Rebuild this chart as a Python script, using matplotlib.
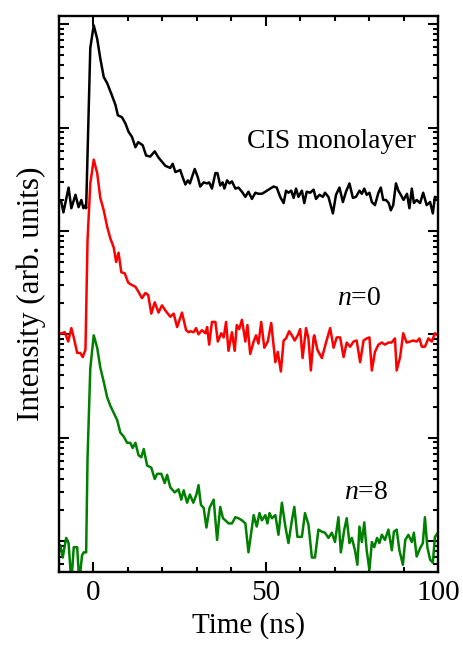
#!/usr/bin/env python3
"""Time-resolved PL decay of CIS monolayer and n=0 / n=8 samples (log scale, offset)."""

import matplotlib

matplotlib.use("Agg")
import matplotlib.pyplot as plt
import numpy as np
from matplotlib.ticker import LogLocator, MultipleLocator, NullFormatter

# time (ns) and log10 intensity, one pair per curve
CIS_TIME = [
    -10, -9.3, -8.7, -7.2, -6.4, -5.2, -4.3, -3.5, -2.9, -2.3, -2.1, -0.9, 0.1, 1.1, 2, 3, 4,
    5.4, 6.4, 7.1, 8.3, 9.3, 10.2, 11.2, 12.2, 13, 14.3, 15.3, 16.5, 17.8, 18.9, 19.9, 20.9,
    22.3, 23, 23.8, 25.2, 25.9, 26.7, 27.4, 28, 29.4, 30.3, 31, 32, 33, 33.6, 34.4, 35.4, 36,
    36.8, 37.5, 38, 38.8, 39.5, 40.2, 41.2, 42.1, 43.1, 44.1, 45, 46, 47, 47.9, 48.9, 49.9,
    51.3, 52.3, 53.2, 54.2, 55.2, 55.9, 56.6, 57.4, 58.1, 58.8, 59.5, 60.5, 61.2, 61.9, 62.9,
    63.9, 64.6, 65.6, 66.6, 67.2, 68.2, 69.5, 70.4, 71.4, 72.4, 73.3, 74.3, 75.3, 76.2, 77.2,
    77.9, 78.6, 79.3, 80.1, 80.8, 81.7, 82.7, 83.4, 84.1, 84.9, 85.7, 86.3, 87, 87.8, 88.5,
    89.2, 90, 91, 91.7, 92.4, 93, 93.8, 94.8, 95.7, 96.7, 97.7, 98.5, 99.1, 100,
]
CIS_LOG = [
    3.30, 3.28, 3.18, 3.42, 3.22, 3.35, 3.23, 3.30, 3.22, 3.25, 3.22, 4.77, 4.99, 4.86, 4.67,
    4.49, 4.43, 4.31, 4.22, 4.12, 4.10, 4.04, 3.96, 3.91, 3.81, 3.86, 3.83, 3.73, 3.72, 3.77,
    3.71, 3.67, 3.63, 3.61, 3.65, 3.57, 3.59, 3.52, 3.45, 3.49, 3.46, 3.60, 3.52, 3.43, 3.47,
    3.46, 3.47, 3.41, 3.56, 3.56, 3.44, 3.47, 3.41, 3.49, 3.46, 3.48, 3.41, 3.42, 3.38, 3.33,
    3.38, 3.31, 3.37, 3.36, 3.36, 3.38, 3.41, 3.43, 3.42, 3.33, 3.27, 3.39, 3.37, 3.39, 3.32,
    3.41, 3.33, 3.39, 3.27, 3.38, 3.37, 3.40, 3.31, 3.35, 3.33, 3.37, 3.33, 3.17, 3.35, 3.42,
    3.28, 3.38, 3.46, 3.32, 3.33, 3.39, 3.36, 3.41, 3.35, 3.37, 3.28, 3.25, 3.37, 3.42, 3.30,
    3.30, 3.27, 3.20, 3.25, 3.46, 3.39, 3.35, 3.30, 3.36, 3.22, 3.41, 3.27, 3.30, 3.27, 3.37,
    3.25, 3.28, 3.17, 3.33, 3.32,
]

N0_TIME = [
    -10, -9.3, -8.3, -7.3, -6.4, -5.7, -4.7, -3.8, -3.1, -2.3, -1.7, -0.9, 0.1, 1.1, 2, 3, 4,
    4.9, 5.9, 6.6, 7.3, 8.1, 9.1, 10.1, 11, 12.2, 13.1, 14.1, 15.1, 15.9, 16.8, 17.8, 18.9,
    19.9, 20.9, 22.3, 23.3, 24.3, 25.7, 26.9, 27.6, 28.1, 29.1, 29.8, 30.5, 31.5, 32.5, 33,
    33.6, 34.4, 35.4, 36.1, 37.1, 37.8, 38.5, 39.2, 40.2, 41, 41.6, 42.3, 43.1, 44.1, 44.7,
    45.5, 46.5, 47.2, 47.9, 48.7, 49.6, 50.6, 51.6, 52.8, 53.5, 54.4, 55.2, 55.9, 56.8, 57.6,
    58.4, 59.3, 60, 60.7, 61.7, 62.4, 63.1, 63.9, 64.1, 65, 66.3, 67.5, 68.7, 69.7, 70.6,
    71.6, 72.6, 73.5, 74.5, 75.5, 76.4, 77.4, 78.4, 79.3, 80.1, 80.8, 81.7, 82.7, 83.7, 84.6,
    85.6, 86.5, 87.5, 88, 89, 89.9, 90.9, 91.9, 92.8, 93.8, 94.6, 95.3, 96.2, 97.2, 98.2,
    99.1, 100,
]
N0_LOG = [
    2.00, 2.01, 2.02, 1.93, 2.06, 1.97, 1.82, 1.82, 1.78, 1.85, 2.91, 3.46, 3.69, 3.56, 3.32,
    3.20, 3.04, 2.93, 2.84, 2.70, 2.79, 2.60, 2.59, 2.50, 2.48, 2.46, 2.41, 2.35, 2.40, 2.38,
    2.20, 2.31, 2.21, 2.28, 2.23, 2.17, 2.20, 2.07, 2.21, 2.04, 2.02, 2.03, 2.02, 2.06, 2.00,
    2.04, 2.01, 2.07, 1.90, 2.12, 2.12, 1.93, 2.01, 1.97, 2.12, 1.84, 2.02, 1.84, 2.09, 2.05,
    2.14, 1.93, 2.09, 1.81, 1.93, 1.99, 1.91, 2.12, 1.87, 1.93, 2.11, 1.73, 1.83, 1.64, 1.94,
    1.96, 2.03, 1.99, 1.94, 1.99, 2.05, 1.77, 2.06, 1.96, 1.65, 1.97, 1.99, 1.85, 1.77, 1.92,
    2.06, 1.87, 1.97, 1.97, 1.78, 1.92, 1.88, 1.93, 1.94, 1.73, 1.94, 1.96, 1.97, 1.65, 1.83,
    1.90, 1.92, 1.90, 1.92, 1.92, 1.96, 1.65, 1.78, 2.01, 1.92, 1.93, 1.94, 1.93, 1.96, 1.88,
    1.88, 1.96, 1.93, 2.01, 1.99,
]

N8_TIME = [
    -10, -9.6, -8.9, -7.9, -7.2, -6.4, -5.7, -4.7, -4.1, -3.3, -2.8, -2.1, -1.7, -0.9, 0.1,
    1.1, 2, 3, 4, 4.9, 5.9, 6.9, 7.8, 8.8, 9.8, 10.7, 11.4, 12.2, 13.1, 13.9, 14.6, 15.6,
    16.8, 17.8, 18.5, 19.7, 20.7, 21.4, 22.3, 23.6, 24.7, 25.5, 26.2, 27.2, 28, 29, 29.9,
    30.5, 31.2, 32, 32.8, 33.7, 34.9, 35.9, 36.8, 37.6, 38.3, 39.2, 40.2, 41.2, 42.1, 43.1,
    44.1, 45, 46.5, 47.4, 48.2, 48.9, 49.9, 50.5, 51.1, 51.8, 52.8, 53.7, 54.7, 55.7, 56.6,
    57.6, 58.3, 59.2, 60.5, 61.4, 62.4, 63.4, 64.3, 65.3, 66.3, 67.2, 68.2, 69.2, 70.1, 71.1,
    71.8, 72.8, 73.5, 74.3, 75, 75.9, 76.6, 77.2, 77.9, 78.6, 79.3, 80.1, 80.8, 81.5, 82.3,
    83, 83.7, 84.6, 85.6, 86.6, 87.2, 88, 88.8, 89.8, 90.5, 91.4, 92.4, 93, 93.8, 94.8, 95.6,
    96.2, 96.9, 97.7, 98.5, 99.1, 100,
]
N8_LOG = [
    -0.10, -0.04, -0.16, 0.03, -0.02, -0.40, -0.06, -0.06, -0.40, -0.14, -0.11, -0.11, 0.80,
    1.67, 1.99, 1.87, 1.68, 1.54, 1.39, 1.31, 1.24, 1.17, 1.05, 1.01, 0.95, 0.95, 0.90, 0.95,
    0.83, 0.81, 0.89, 0.73, 0.71, 0.60, 0.65, 0.65, 0.56, 0.64, 0.52, 0.47, 0.50, 0.40, 0.49,
    0.37, 0.45, 0.37, 0.45, 0.54, 0.35, 0.32, 0.13, 0.32, 0.40, 0.01, 0.33, 0.22, 0.20, 0.17,
    0.17, 0.23, 0.22, 0.20, 0.17, -0.11, 0.25, 0.14, 0.27, 0.20, 0.25, 0.17, 0.27, 0.22, 0.25,
    0.06, 0.37, 0.14, -0.02, 0.20, 0.33, 0.04, 0.04, 0.27, 0.16, -0.16, -0.16, 0.11, 0.09,
    0.08, 0.03, 0.08, -0.01, 0.23, -0.11, 0.11, 0.22, -0.02, 0.03, -0.09, -0.23, 0.14, -0.01,
    0.18, -0.09, -0.28, -0.01, -0.06, 0.03, -0.02, 0.06, 0.01, 0.11, -0.09, 0.09, 0.11, -0.09,
    -0.23, 0.01, 0.06, -0.01, 0.08, -0.15, -0.07, -0.02, 0.23, -0.06, -0.18, -0.21, 0.04,
    0.08,
]

SERIES = [
    ("CIS monolayer", CIS_TIME, CIS_LOG, "black"),
    ("$n$=0", N0_TIME, N0_LOG, "#ff0000"),
    ("$n$=8", N8_TIME, N8_LOG, "#008000"),
]
LABEL_POS = [(69, 10 ** 3.87), (77, 10 ** 2.35), (79, 10 ** 0.47)]


def main():
    """Main."""
    plt.rcParams["font.family"] = ["Liberation Serif", "DejaVu Serif"]
    plt.rcParams["mathtext.fontset"] = "custom"
    plt.rcParams["mathtext.rm"] = "Liberation Serif"
    plt.rcParams["mathtext.it"] = "Liberation Serif:italic"

    fig = plt.figure(figsize=(4.64, 6.54), dpi=100)
    ax = fig.add_axes([0.127, 0.1254, 0.817, 0.8501])

    for (label, t, log_vals, color), (lx, ly) in zip(SERIES, LABEL_POS):
        ax.plot(t, 10 ** np.array(log_vals), color=color, lw=1.8)
        ax.text(lx, ly, label, fontsize=20, ha="center", va="center")

    ax.set_yscale("log")
    ax.set_xlim(-10, 100)
    ax.set_ylim(10 ** -0.30, 10 ** 5.08)

    ax.xaxis.set_major_locator(MultipleLocator(50))
    ax.xaxis.set_minor_locator(MultipleLocator(10))
    ax.yaxis.set_major_locator(LogLocator(base=10, numticks=20))
    ax.yaxis.set_minor_locator(LogLocator(base=10, subs=np.arange(2, 10), numticks=20))
    ax.yaxis.set_major_formatter(NullFormatter())
    ax.yaxis.set_minor_formatter(NullFormatter())

    ax.tick_params(which="both", direction="in", top=True, right=True, width=1.5)
    ax.tick_params(which="major", length=7)
    ax.tick_params(which="minor", length=3.5)
    ax.tick_params(axis="x", labelsize=21, pad=6)
    for spine in ax.spines.values():
        spine.set_linewidth(1.7)

    ax.set_xlabel("Time (ns)", fontsize=21, labelpad=4)
    ax.set_ylabel("Intensity (arb. units)", fontsize=22.5, labelpad=6)

    fig.savefig("out.png", dpi=100)
    plt.close(fig)


if __name__ == "__main__":
    main()
